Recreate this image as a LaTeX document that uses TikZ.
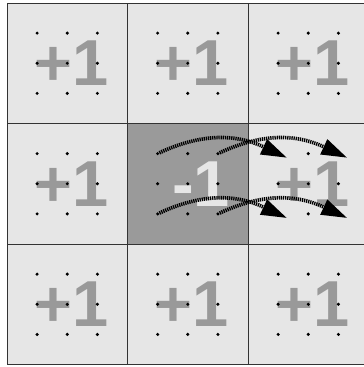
\documentclass[tikz,border=0pt]{standalone}
\usepackage{fontspec}
\setmainfont{Liberation Sans}
\usepackage{xcolor}
\usetikzlibrary{arrows.meta, positioning}
\definecolor{cellbg}{HTML}{E6E6E6}
\definecolor{centerbg}{HTML}{9A9A9A}
\definecolor{signgray}{HTML}{999999}
\definecolor{gridline}{HTML}{333333}

\begin{document}
\begin{tikzpicture}[
  cell/.style={rectangle, draw=gridline, line width=0.6pt, fill=cellbg,
               minimum size=3cm, inner sep=0pt},
  centercell/.style={cell, fill=centerbg},
  num/.style={font=\fontsize{46}{46}\selectfont\bfseries, text=signgray, inner sep=0pt},
  negnum/.style={num, text=cellbg},
  dotmark/.style={circle, fill=black, inner sep=0pt, minimum size=0.085cm},
  hop/.style={-{Triangle[length=18pt, width=12pt, line width=0pt, fill=black]},
              line width=2.6pt, dash pattern=on 0.9pt off 0.6pt,
              bend left=25, shorten >=-0.28cm}
]
  \useasboundingbox (-0.174,0.075) rectangle (8.863,-9.061);

  % cells
  \foreach \i in {0,1,2}
    \foreach \j in {0,1,2}
      \node[cell] (c\i\j) at (3*\i+1.5, -3*\j-1.5) {};
  \node[centercell] (mid) at (c11) {};

  % values
  \foreach \c in {00,10,20,01,21,02,12,22}
    \node[num, xshift=3pt] (n\c) at (c\c) {+1};
  \node[negnum, xshift=9.3pt] (n11) at (c11) {-1};

  % sample points
  \foreach \i in {0,1,2}
    \foreach \j in {0,1,2}
      \foreach \p in {1,2,3}
        \foreach \q in {1,2,3}
          \node[dotmark] (d\i\j-\p\q) at (3*\i+0.75*\p, -3*\j-0.75*\q) {};

  \draw[hop] (d11-11) to (d21-11);
  \draw[hop] (d11-31) to (d21-31);
  \draw[hop] (d11-13) to (d21-13);
  \draw[hop] (d11-33) to (d21-33);
\end{tikzpicture}
\end{document}
